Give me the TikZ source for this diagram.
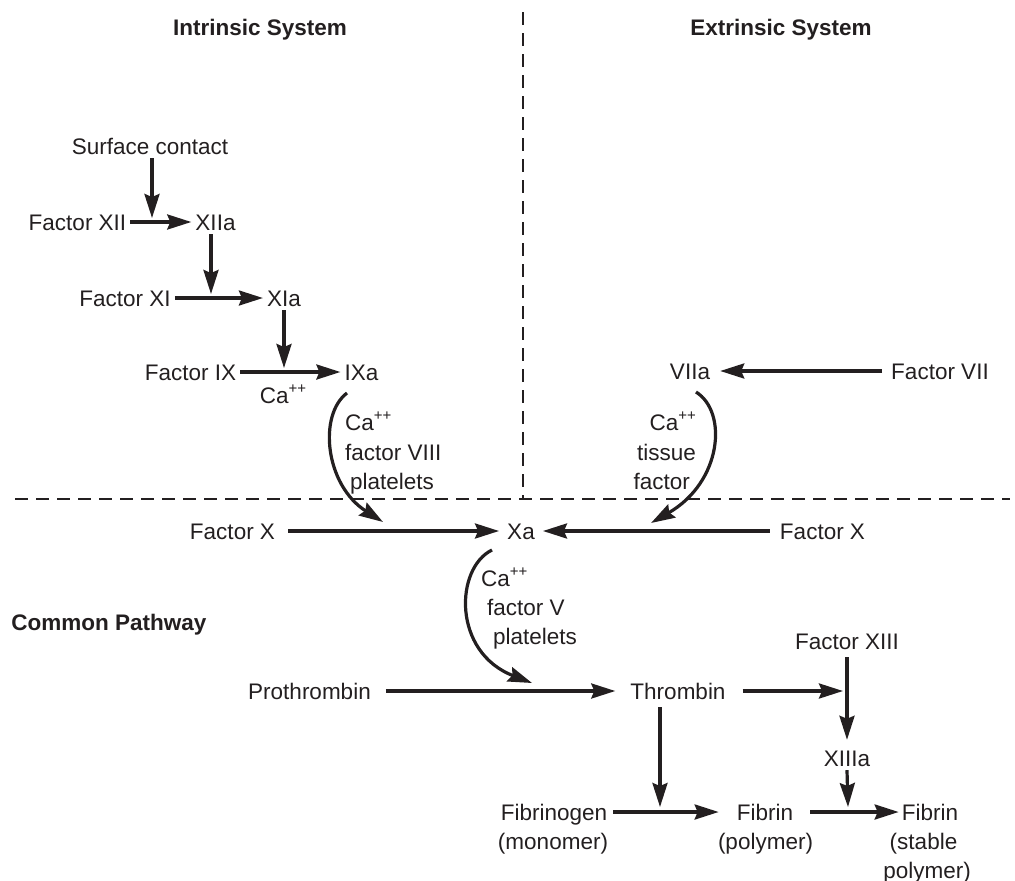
\documentclass[tikz,border=0pt]{standalone}
\usepackage{fontspec}
\setmainfont{Liberation Sans}
\usetikzlibrary{arrows.meta}
\definecolor{ink}{HTML}{231F20}
\newcommand{\ppsup}{\raisebox{0.42em}{\fontsize{15}{15}\selectfont ++}}
\begin{document}
\begin{tikzpicture}[x=1pt,y=-1pt,
  lbl/.style={inner sep=4pt, text height=16pt, text depth=0pt, font=\fontsize{22.5}{27}\selectfont, text=ink},
  ttl/.style={lbl, font=\fontsize{22.5}{27}\selectfont\bfseries},
  arr/.style={draw=ink, line width=3.2pt, line cap=butt, -{Stealth[length=24pt,width=15pt,inset=3pt]}},
  divider/.style={draw=ink, line width=2.2pt, dash pattern=on 13pt off 8pt}]
\useasboundingbox (0,0) rectangle (1015,881);
% dividers
\draw[divider] (523,12) -- (523,500);
\draw[divider] (15,499) -- (1010,499);
% titles
\node[ttl] (intr) at (260,27) {Intrinsic System};
\node[ttl] (extr) at (781,27) {Extrinsic System};
\node[ttl] (comm) at (109,622) {Common Pathway};
% intrinsic nodes
\node[lbl] (surf) at (150,146) {Surface contact};
\node[lbl] (fxii) at (77.5,222) {Factor XII};
\node[lbl] (xiia) at (215.5,222) {XIIa};
\node[lbl] (fxi) at (125,298) {Factor XI};
\node[lbl] (xia) at (284,298) {XIa};
\node[lbl] (fix) at (190.5,372) {Factor IX};
\node[lbl] (ixa) at (361.5,372) {IXa};
\node[lbl] (ca1) at (283,395) {Ca\ppsup};
\node[lbl,anchor=west] (ca2) at (341,422) {Ca\ppsup};
\node[lbl,anchor=west] (f8) at (341,452) {factor VIII};
\node[lbl,anchor=west] (pl1) at (346,481) {platelets};
% extrinsic nodes
\node[lbl] (viia) at (690,371) {VIIa};
\node[lbl] (fvii) at (940,371) {Factor VII};
\node[lbl,anchor=east] (ca3) at (700,422) {Ca\ppsup};
\node[lbl,anchor=east] (tis) at (700,452) {tissue};
\node[lbl,anchor=east] (tf) at (694,481) {factor};
% factor X row
\node[lbl] (fxl) at (232.5,531) {Factor X};
\node[lbl] (xa) at (521,531) {Xa};
\node[lbl] (fxr) at (822.5,531) {Factor X};
\node[lbl,anchor=west] (ca4) at (477,578) {Ca\ppsup};
\node[lbl,anchor=west] (f5) at (483,607) {factor V};
\node[lbl,anchor=west] (pl2) at (489,636) {platelets};
% common pathway
\node[lbl] (proth) at (309.5,691) {Prothrombin};
\node[lbl] (thr) at (678,691) {Thrombin};
\node[lbl] (fxiii) at (847,641) {Factor XIII};
\node[lbl] (xiiia) at (847,758) {XIIIa};
\node[lbl] (fbg) at (554,812) {Fibrinogen};
\node[lbl] (mono) at (553,841) {(monomer)};
\node[lbl] (fbn) at (765,812) {Fibrin};
\node[lbl] (poly) at (765.5,841) {(polymer)};
\node[lbl] (fbs) at (930,812) {Fibrin};
\node[lbl] (stab) at (923.5,841) {(stable};
\node[lbl] (poly2) at (927,870) {polymer)};
% junction coordinates
\coordinate (j1) at (152,218);
\coordinate (j2) at (211,294);
\coordinate (j3) at (284,368);
\coordinate (jix) at (383,522);
\coordinate (jvii) at (651,523);
\coordinate (jxa) at (532,683);
\coordinate (j4) at (843,691);
\coordinate (j5) at (848,807);
\coordinate (j6) at (660,807);
% intrinsic arrows
\draw[arr] (j1 |- surf.south) -- (j1);
\draw[arr] (fxii.east) -- (xiia.west);
\draw[arr] (j2 |- xiia.south) -- (j2);
\draw[arr] (fxi.east) -- (xia.west);
\draw[arr] (xia.south) -- (j3);
\draw[arr] (fix.east) -- (ixa.west);
\draw[arr] ([shift={(-14.5,21)}]ixa.center) .. controls (318,415) and (325,485) .. (jix);
% extrinsic arrows
\draw[arr,shorten <=5pt,shorten >=6pt] (fvii.west) -- (viia.east);
\draw[arr] ([shift={(6,21)}]viia.center) .. controls (728,412) and (722,482) .. (jvii);
% X row
\draw[arr,shorten <=9pt,shorten >=4pt] (fxl.east) -- (xa.west);
\draw[arr,shorten <=6pt,shorten >=4pt] (fxr.west) -- (xa.east);
\draw[arr] ([shift={(-29,19)}]xa.center) .. controls (455,568) and (452,652) .. (jxa);
% common arrows
\draw[arr,shorten <=11pt,shorten >=11pt] (proth.east) -- (thr.west);
\draw[arr,shorten <=13pt] (thr.east) -- (j4);
\draw[arr,shorten <=4pt,shorten >=6pt] (fxiii.south) -- (xiiia.north);
\draw[arr] (xiiia.south) -- (j5);
\draw[arr,shorten <=4pt] (j6 |- thr.south) -- (j6);
\draw[arr,shorten <=2pt,shorten >=14pt] (fbg.east) -- (fbn.west);
\draw[arr,shorten <=13pt] (fbn.east) -- ([xshift=1pt]fbs.west);
\end{tikzpicture}
\end{document}
